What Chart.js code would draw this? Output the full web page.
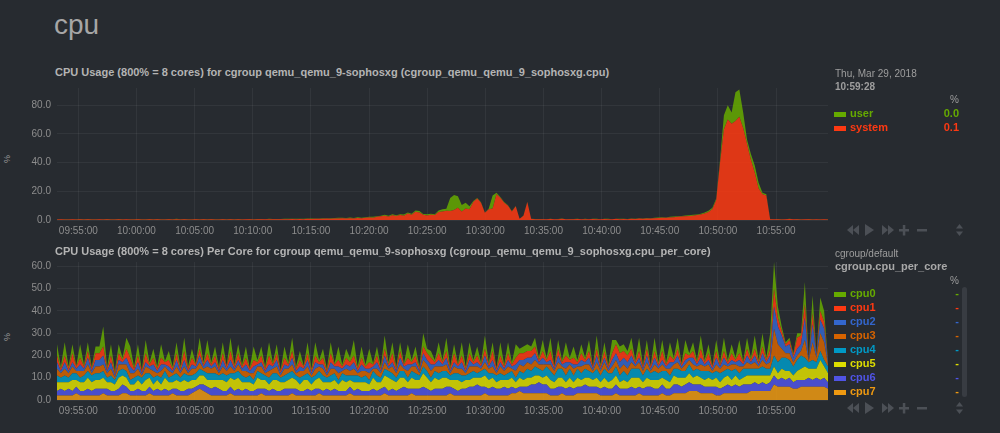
<!DOCTYPE html>
<html><head><meta charset="utf-8">
<script src="https://cdn.jsdelivr.net/npm/chart.js"></script>
<style>
html,body{margin:0;padding:0;background:#272b30;width:1000px;height:433px;overflow:hidden;font-family:"Liberation Sans",Arial,Helvetica,sans-serif;}
.a{position:absolute;white-space:nowrap;}
#title{left:54px;top:9px;font-size:28px;color:#a6a6a6;}
.ct{left:55px;font-size:11px;font-weight:bold;color:#b4b4b4;}
.pct{font-size:9px;color:#9a9a9a;transform:rotate(-90deg);}
.small{font-size:10px;color:#9e9e9e;}
.bold{font-weight:bold;}
.lg{font-size:11px;font-weight:bold;}
.sw{width:12px;height:5px;}
.val{font-size:11px;font-weight:bold;text-align:right;width:60px;}
</style></head><body>
<div id="title" class="a">cpu</div>

<div class="a ct" style="top:66px;">CPU Usage (800% = 8 cores) for cgroup qemu_qemu_9-sophosxg (cgroup_qemu_qemu_9_sophosxg.cpu)</div>
<div class="a pct" style="left:3px;top:154px;">%</div>
<div class="a" style="left:0;top:76px;width:840px;height:170px;"><canvas id="c1" width="840" height="170"></canvas></div>

<div class="a small" style="left:835px;top:68px;">Thu, Mar 29, 2018</div>
<div class="a small bold" style="left:835px;top:81px;">10:59:28</div>
<div class="a small" style="left:950px;top:94px;">%</div>
<div id="leg1"></div>

<div class="a ct" style="top:245px;">CPU Usage (800% = 8 cores) Per Core for cgroup qemu_qemu_9-sophosxg (cgroup_qemu_qemu_9_sophosxg.cpu_per_core)</div>
<div class="a pct" style="left:3px;top:332px;">%</div>
<div class="a" style="left:0;top:250px;width:840px;height:175px;"><canvas id="c2" width="840" height="175"></canvas></div>

<div class="a small" style="left:835px;top:248px;">cgroup/default</div>
<div class="a bold" style="left:835px;top:260px;font-size:11px;color:#a8a8a8;">cgroup.cpu_per_core</div>
<div class="a small" style="left:950px;top:275px;">%</div>
<div class="a" style="left:962px;top:287px;width:5px;height:110px;border-radius:3px;background:#383c42;"></div>
<div id="leg2"></div>

<svg class="a" style="left:843px;top:224px;" width="130" height="13" id="ctl1"></svg>
<svg class="a" style="left:843px;top:402px;" width="130" height="13" id="ctl2"></svg>

<script>
// ---------- time axis ----------
const startTime = 35590;   // 09:53:10 (seconds of day)
const endTime = 39568;     // 10:59:28
const xTickLabels = ["09:55:00","10:00:00","10:05:00","10:10:00","10:15:00","10:20:00","10:25:00",
  "10:30:00","10:35:00","10:40:00","10:45:00","10:50:00","10:55:00"];

// ---------- chart 1: cgroup cpu (user / system), % ----------
const cpuSystem = [
0.4,0.5,0.4,0.4,0.5,0.4,0.6,0.4,0.5,0.4,0.4,0.5,0.4,0.5,0.4,0.4,0.6,0.4,0.5,0.4,
0.4,0.5,0.4,0.4,0.5,0.4,0.5,0.4,0.4,0.5,0.4,0.6,0.4,0.5,0.4,0.4,0.5,0.4,0.5,0.4,
0.5,0.4,0.4,0.5,0.4,0.5,0.4,0.6,0.4,0.5,0.5,0.4,0.6,0.5,0.5,0.6,0.5,0.6,0.5,0.6,
0.6,0.7,0.6,0.7,0.6,0.8,0.7,0.8,0.9,0.8,1.0,0.9,1.1,1.0,1.2,1.0,1.3,1.1,1.4,1.2,
1.5,1.8,1.6,2.2,2.6,3.0,2.4,3.3,2.8,3.4,3.0,4.6,3.6,5.8,5.2,3.6,3.2,3.6,3.4,5.6,
6.0,6.4,6.3,7.0,8.5,6.0,8.0,7.5,12.5,15.0,12.0,5.0,7.5,8.0,18.0,15.5,12.0,10.0,6.0,9.5,
0.8,3.0,12.5,0.8,0.6,0.5,0.6,0.5,0.7,0.5,0.6,0.8,0.5,0.6,0.5,0.7,0.5,0.6,0.5,0.7,
0.6,0.5,0.7,0.6,0.5,0.8,0.6,0.7,0.6,0.8,0.7,1.0,0.8,1.1,1.0,1.3,1.4,1.6,1.5,1.8,
2.0,2.2,2.4,2.6,2.8,3.0,3.4,3.8,4.6,5.6,7.5,14.0,40.0,63.0,70.0,67.0,69.0,72.0,64.0,53.0,
42.0,33.0,22.0,18.0,17.0,0.6,0.5,0.6,0.4,0.5,0.7,0.5,0.6,0.4,0.5,0.6,0.4,0.5,0.4,0.5,0.4];
const cpuUser = [
0.2,0.1,0.2,0.2,0.1,0.2,0.1,0.2,0.2,0.1,0.2,0.1,0.2,0.2,0.1,0.2,0.1,0.2,0.1,0.2,
0.1,0.2,0.2,0.1,0.2,0.1,0.2,0.1,0.2,0.2,0.1,0.2,0.1,0.2,0.2,0.1,0.2,0.1,0.2,0.1,
0.2,0.1,0.2,0.2,0.1,0.2,0.2,0.1,0.2,0.1,0.2,0.2,0.1,0.2,0.1,0.2,0.2,0.1,0.2,0.2,
0.2,0.2,0.3,0.2,0.3,0.2,0.3,0.3,0.2,0.4,0.3,0.4,0.3,0.5,0.3,0.4,0.5,0.3,0.5,0.4,
0.5,0.4,0.6,0.5,0.4,0.6,0.5,0.7,0.5,0.6,0.8,0.6,0.7,0.9,1.0,0.6,0.8,0.7,0.6,1.0,
1.5,1.5,9.0,10.5,8.0,4.5,4.0,2.0,0.8,0.3,0.3,0.3,0.5,9.0,1.0,0.5,0.5,0.3,0.3,0.3,
0.1,0.1,0.3,0.1,0.1,0.2,0.1,0.1,0.2,0.1,0.1,0.2,0.1,0.1,0.2,0.1,0.1,0.2,0.1,0.1,
0.2,0.1,0.1,0.2,0.1,0.1,0.2,0.1,0.1,0.2,0.1,0.2,0.2,0.3,0.2,0.3,0.3,0.4,0.3,0.4,
0.4,0.5,0.4,0.5,0.5,0.6,0.5,0.6,0.7,0.8,1.0,1.0,2.0,10.0,10.0,8.0,20.0,19.0,11.0,3.0,
4.0,5.0,4.0,1.0,1.0,0.1,0.1,0.1,0.1,0.1,0.1,0.1,0.1,0.1,0.1,0.1,0.1,0.1,0.1,0.1,0.1];
const chart1Names = ["user","system"];
const chart1Latest = ["0.0","0.1"];
const chart1YTicks = {max:92, step:20};

// ---------- chart 2: per core, % ----------
const cpu0 = [
5,1,6,1,4,0.5,6,1,4,1,3,3,9,1,5,1,4,1,5,5,
1,5,0.5,6,1,4,1,6,0.5,4,1,5,1,6,1,4,0.5,5,1,6,
1,4,1,5,0.5,6,1,4,1,5,0.5,6,1,4,1,6,1,4,0.5,5,
1,6,1,4,0.5,5,1,6,1,4,1,5,0.5,6,1,4,2,7,1,5,
1,6,0.5,4,1,6,1,5,1,4,0.5,6,1,4,1,6,2,3,1,5,
1,6,1,4,0.5,6,1,5,1,4,1,6,1,4,0.5,6,1,5,1,6,
2,3,3,2,4,1,5,1,6,0.5,4,1,6,1,5,1,4,1,5,0.5,
6,1,4,1,6,2,3,3,2,5,1,6,1,4,0.5,6,1,5,1,6,
1,5,0.5,6,1,4,1,6,1,4,0.5,5,1,6,1,4,1,6,0.5,5,
1,6,1,6,1,7,12,5,2,1,1,1,2,1,10,0.2,8,0.5,6,5,0.5];
const cpu1 = [
3,1,3,1,4,1,3,1,3,1,3,3,4,1,3,1,3,1,4,4,
1,3,1,4,1,3,1,3,1,3,1,3,1,4,1,3,1,3,1,3,
1,3,1,3,1,4,1,3,1,3,1,3,1,3,1,4,1,3,1,3,
1,3,1,3,1,3,1,3,1,3,1,4,1,3,1,3,2,3,1,3,
1,3,1,3,1,3,1,4,1,3,1,3,1,3,1,3,3,3,1,3,
1,3,1,4,1,3,1,3,1,3,1,3,1,4,1,3,1,3,1,3,
3,3,3,3,3,1,3,1,4,1,3,1,3,1,3,1,3,1,3,1,
3,1,3,1,3,4,4,3,3,3,1,3,1,3,1,3,1,4,1,3,
1,3,1,3,1,3,1,4,1,3,1,3,1,3,1,3,1,3,1,3,
1,3,1,3,1,3,8,4,2,1,2,1,5,4,6,0.3,5,0.5,4,3,0.5];
const cpu2 = [
3,1,3,1,2,1,3,1,3,1,3,3,4,1,3,1,2,1,3,3,
1,3,1,2,1,3,1,3,1,2,1,3,1,3,1,2,1,3,1,3,
1,2,1,3,1,3,1,2,1,3,1,3,1,2,1,3,1,3,1,2,
1,3,1,2,1,3,1,3,1,2,1,3,1,3,1,2,2,3,1,3,
1,2,1,3,1,3,1,2,1,3,1,3,1,2,1,3,2,3,1,3,
1,3,1,2,1,3,1,3,1,2,1,3,1,3,1,2,1,3,1,3,
2,3,2,3,3,1,3,1,2,1,3,1,3,1,2,1,3,1,3,1,
3,1,2,1,3,3,3,3,3,3,1,2,1,3,1,3,1,2,1,3,
1,3,1,2,1,3,1,3,1,2,1,3,1,3,1,2,1,3,1,3,
1,3,1,3,1,3,10,8,6,3,4,2,3,3,10,0.3,8,1,6,6,1];
const cpu3 = [
3,2,3,2,3,1,3,2,3,1,3,3,3,2,3,1,3,2,3,3,
2,3,1,3,2,3,1,3,2,3,1,3,2,3,1,3,2,3,1,3,
2,3,1,3,2,3,1,3,2,3,1,3,2,3,1,3,2,3,1,3,
2,3,1,3,2,3,1,3,2,3,1,3,2,3,1,3,2,3,1,3,
2,3,1,3,2,3,1,3,2,3,1,3,2,3,1,3,3,3,2,3,
2,3,1,3,2,3,1,3,2,3,1,3,2,3,1,3,2,3,1,3,
3,3,3,3,3,2,3,1,3,2,3,1,3,2,3,1,3,2,3,1,
3,2,3,1,3,3,3,3,3,3,1,3,2,3,1,3,2,3,1,3,
2,3,1,3,2,3,1,3,2,3,1,3,2,3,1,3,2,3,1,3,
2,3,1,3,2,3,12,8,4,2,3,2,2,2,8,0.5,8,2,8,8,1];
const cpu4 = [
3,2,3,2,3,3,2,3,3,3,3,3,3,2,3,2,3,3,3,2,
3,2,3,3,2,3,2,3,3,2,3,3,2,3,3,2,3,3,2,3,
3,3,2,3,3,2,3,3,3,2,3,2,3,3,2,3,3,3,2,3,
3,3,2,3,2,3,3,2,3,3,2,3,3,2,3,3,2,3,3,2,
3,2,3,3,2,3,3,3,2,3,3,2,3,3,2,3,3,2,3,3,
3,3,2,3,3,3,2,3,3,2,3,3,3,2,3,3,2,3,3,2,
3,3,4,3,4,3,3,4,4,3,4,4,3,4,3,4,3,4,3,3,
4,3,4,4,3,4,3,4,3,4,4,4,3,4,3,4,3,3,4,3,
3,4,3,3,4,3,3,3,4,3,3,3,4,3,3,4,3,3,4,3,
3,3,3,4,3,3,5,5,5,6,5,4,5,6,4,3,4,3,4,3,3];
const cpu5 = [
4,3,4,3,5,3,4,4,5,4,4,4,5,3,4,3,5,4,4,3,
3,4,3,5,4,3,4,3,5,4,3,4,4,5,3,4,3,4,4,3,
4,3,4,5,4,4,5,5,4,3,4,3,5,4,4,3,4,5,4,3,
4,5,4,3,5,4,3,4,5,4,3,4,4,3,5,4,3,4,3,4,
4,3,5,4,3,5,6,4,4,5,4,3,5,4,4,6,5,4,5,4,
5,4,3,4,5,3,4,3,4,3,4,5,4,4,3,4,3,4,4,3,
4,3,4,3,4,3,3,4,4,3,4,4,3,4,3,4,3,3,4,3,
4,3,4,3,4,4,3,4,3,4,5,4,3,4,3,4,4,3,4,3,
4,3,4,3,4,3,4,3,3,4,3,4,3,4,4,3,4,3,3,4,
4,3,4,3,4,3,4,3,4,4,3,3,4,5,6,4,5,4,9,5,4];
const cpu6 = [
2,3,2,3,2,3,2,2,3,2,3,3,2,3,2,2,3,4,3,2,
2,3,2,2,3,2,3,2,3,2,2,3,2,2,3,2,2,2,3,3,
3,4,3,2,2,3,2,3,2,3,2,2,3,2,3,2,3,2,2,3,
3,2,3,2,2,3,2,3,2,2,3,2,3,2,2,2,3,2,3,2,
2,2,3,2,3,3,2,3,2,3,4,3,2,3,3,4,3,2,3,3,
3,4,3,3,2,3,3,4,4,5,4,3,3,4,3,3,4,3,3,2,
2,3,3,4,4,5,4,4,3,3,4,3,3,4,3,3,3,4,3,3,
3,3,4,3,3,4,3,3,3,4,3,3,3,4,4,3,3,4,3,3,
4,4,3,4,4,3,3,4,3,3,3,4,3,3,4,3,4,3,4,4,
3,4,3,4,3,4,4,3,4,3,4,3,4,3,3,4,3,4,3,4,3];
const cpu7 = [
2,2,2,2,2,3,2,2,2,2,2,2,3,2,2,2,2,3,3,2,
2,2,2,2,3,2,2,2,2,2,3,2,2,2,2,3,4,5,4,3,
2,2,2,2,2,3,2,2,2,2,2,2,2,3,2,2,2,2,2,2,
2,3,2,2,2,2,2,2,3,2,2,2,2,2,2,2,3,2,2,2,
2,2,2,2,2,3,2,2,2,2,2,2,3,2,2,2,2,2,2,2,
2,2,3,2,2,2,2,2,2,2,2,3,2,2,2,2,2,2,3,3,
4,3,3,3,3,3,3,3,2,2,2,3,2,2,2,3,3,3,3,3,
3,2,2,2,2,3,2,2,2,2,2,3,2,2,2,2,2,3,2,2,
3,3,3,3,4,4,4,3,3,3,3,2,2,3,3,3,3,3,3,3,
4,4,4,4,4,4,7,6,6,6,6,5,5,6,6,6,6,6,6,6,5];
const coreNames = ["cpu0","cpu1","cpu2","cpu3","cpu4","cpu5","cpu6","cpu7"];
const chart2YTicks = {max:62, step:10};

// ---------- styling ----------
const FONT = '"Liberation Sans", Arial, sans-serif';
const colUser = '#66AA00', colSystem = '#FE3912';
const coreColors = ['#66AA00','#FE3912','#3366CC','#D66300','#0099C6','#DDDD00','#5054e6','#EE9911'];
const gridCol = 'rgba(255,255,255,0.055)';
const tickCol = '#8d8d8d';

function pad(n){return (n<10?'0':'')+n;}
function fmtTime(t){t=Math.round(t);return pad(Math.floor(t/3600))+':'+pad(Math.floor(t%3600/60))+':'+pad(t%60);}
function parseTime(s){const p=s.split(':').map(Number);return p[0]*3600+p[1]*60+p[2];}
const xTickValues = xTickLabels.map(parseTime);
function toXY(values){
  const n = values.length;
  return values.map((v,i)=>({x: startTime + i*(endTime-startTime)/(n-1), y: v}));
}
function mkDataset(label, values, color, first){
  return {label, data: toXY(values), backgroundColor: color+'DA', borderColor: color, borderWidth: 0,
    pointRadius: 0, tension: 0, fill: first ? 'origin' : '-1'};
}
function mkOptions(yt, padTop, xH){
  return {
    responsive:false, animation:false, devicePixelRatio:1,
    layout:{padding:{top:padTop,right:12,left:0,bottom:0}},
    plugins:{legend:{display:false}, tooltip:{enabled:false}},
    scales:{
      x:{type:'linear', min:startTime, max:endTime,
        grid:{color:gridCol, drawTicks:false}, border:{display:false},
        ticks:{autoSkip:false, maxRotation:0, padding:5,
          color:tickCol, font:{family:FONT,size:10}, callback:v=>fmtTime(v)},
        afterBuildTicks:s=>{s.ticks = xTickValues.map(v=>({value:v}));},
        afterFit:s=>{s.height=xH;}},
      y:{stacked:true, min:0, max:yt.max,
        grid:{color:gridCol, drawTicks:false}, border:{display:false},
        ticks:{stepSize:yt.step, includeBounds:false, padding:6, color:tickCol, font:{family:FONT,size:10},
          callback:v=>Number(v).toFixed(1)},
        afterFit:s=>{s.width=57;}}
    }
  };
}

new Chart(document.getElementById('c1'), {
  type:'line',
  data:{datasets:[mkDataset('system', cpuSystem, colSystem, true), mkDataset('user', cpuUser, colUser, false)]},
  options: mkOptions(chart1YTicks, 6, 26)
});

const coreSeries = [cpu0,cpu1,cpu2,cpu3,cpu4,cpu5,cpu6,cpu7];
const ds2 = [];
for (let k=7;k>=0;k--) ds2.push(mkDataset(coreNames[k], coreSeries[k], coreColors[k], k===7));
new Chart(document.getElementById('c2'), {
  type:'line', data:{datasets:ds2}, options: mkOptions(chart2YTicks, 9.5, 25)
});

// ---------- legends ----------
function legendRow(parent, top, name, color, value){
  const sw = document.createElement('div'); sw.className='a sw'; sw.style.left='834px'; sw.style.top=(top+5)+'px'; sw.style.background=color;
  const nm = document.createElement('div'); nm.className='a lg'; nm.style.left='850px'; nm.style.top=top+'px'; nm.style.color=color; nm.textContent=name;
  const vl = document.createElement('div'); vl.className='a val'; vl.style.left='899px'; vl.style.top=top+'px'; vl.style.color=color; vl.textContent=value;
  parent.appendChild(sw); parent.appendChild(nm); parent.appendChild(vl);
}
const l1 = document.getElementById('leg1');
legendRow(l1, 107, chart1Names[0], colUser, chart1Latest[0]);
legendRow(l1, 121, chart1Names[1], colSystem, chart1Latest[1]);
const l2 = document.getElementById('leg2');
coreNames.forEach((n,k)=>legendRow(l2, 287+14*k, n, coreColors[k], '-'));

// ---------- control icons ----------
function controls(id){
  const s = document.getElementById(id), c = '#4c5056';
  s.innerHTML =
   `<polygon fill="${c}" points="10,1 10,11 4,6"/><polygon fill="${c}" points="16,1 16,11 10,6"/>`+
   `<polygon fill="${c}" points="22,0 22,12 31,6"/>`+
   `<polygon fill="${c}" points="39,1 39,11 45,6"/><polygon fill="${c}" points="45,1 45,11 51,6"/>`+
   `<rect fill="${c}" x="56" y="5" width="10" height="2.5"/><rect fill="${c}" x="59.8" y="1" width="2.5" height="10.5"/>`+
   `<rect fill="${c}" x="74" y="5" width="10" height="2.5"/>`+
   `<polygon fill="${c}" points="116.5,0 113,4.5 120,4.5"/><polygon fill="${c}" points="116.5,12 113,7.5 120,7.5"/>`;
}
controls('ctl1'); controls('ctl2');
</script>
</body></html>
